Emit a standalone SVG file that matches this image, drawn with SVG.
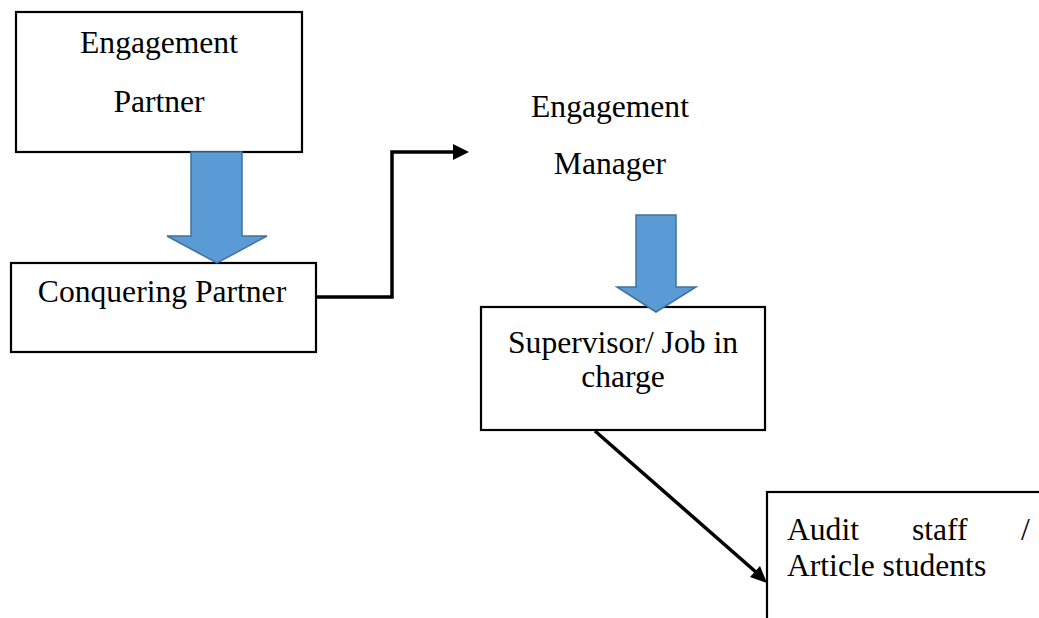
<svg xmlns="http://www.w3.org/2000/svg" width="1039" height="618" viewBox="0 0 1039 618">
<style>
.box{fill:#fff;stroke:#000;stroke-width:2.2}
.t{font-family:"Liberation Serif","Times New Roman",serif;font-size:31.6px;fill:#000}
.m{text-anchor:middle}
.blue{fill:#5B9BD5;stroke:#41719C;stroke-width:1.5;stroke-linejoin:miter}
.conn{fill:none;stroke:#000;stroke-width:3.5}
</style>
<rect width="1039" height="618" fill="#fff"/>
<g id="engagement-partner">
<rect class="box" x="16" y="12" width="286" height="140"/>
<text class="t m" x="159" y="53">Engagement</text>
<text class="t m" x="159" y="112">Partner</text>
</g>
<g id="conquering-partner">
<rect class="box" x="11" y="263" width="305" height="89"/>
<text class="t m" x="162" y="302">Conquering Partner</text>
</g>
<g id="engagement-manager">
<text class="t m" x="610" y="117">Engagement</text>
<text class="t m" x="610" y="174">Manager</text>
</g>
<g id="supervisor">
<rect class="box" x="481" y="307" width="284" height="123"/>
<text class="t m" x="623" y="353">Supervisor/ Job in</text>
<text class="t m" x="623" y="387">charge</text>
</g>
<g id="audit-staff">
<rect class="box" x="767" y="492" width="290" height="150"/>
<text class="t" y="540"><tspan x="787">Audit</tspan><tspan x="912">staff</tspan><tspan x="1021">/</tspan></text>
<text class="t" x="787" y="576">Article students</text>
</g>
<g id="connectors">
<path class="blue" d="M191,152 L242,152 L242,236 L267,236 L217,263 L167,236 L191,236 Z"/>
<path class="blue" d="M636,215 L676,215 L676,287 L696,287 L656,312 L617,287 L636,287 Z"/>
<path class="conn" d="M316,297 L392,297 L392,152 L455,152"/>
<path d="M453,144 L469,152 L453,160 Z" fill="#000"/>
<path class="conn" d="M595,431 L757,573"/>
<path d="M750,577 L767,583 L760,566 Z" fill="#000"/>
</g>
</svg>
